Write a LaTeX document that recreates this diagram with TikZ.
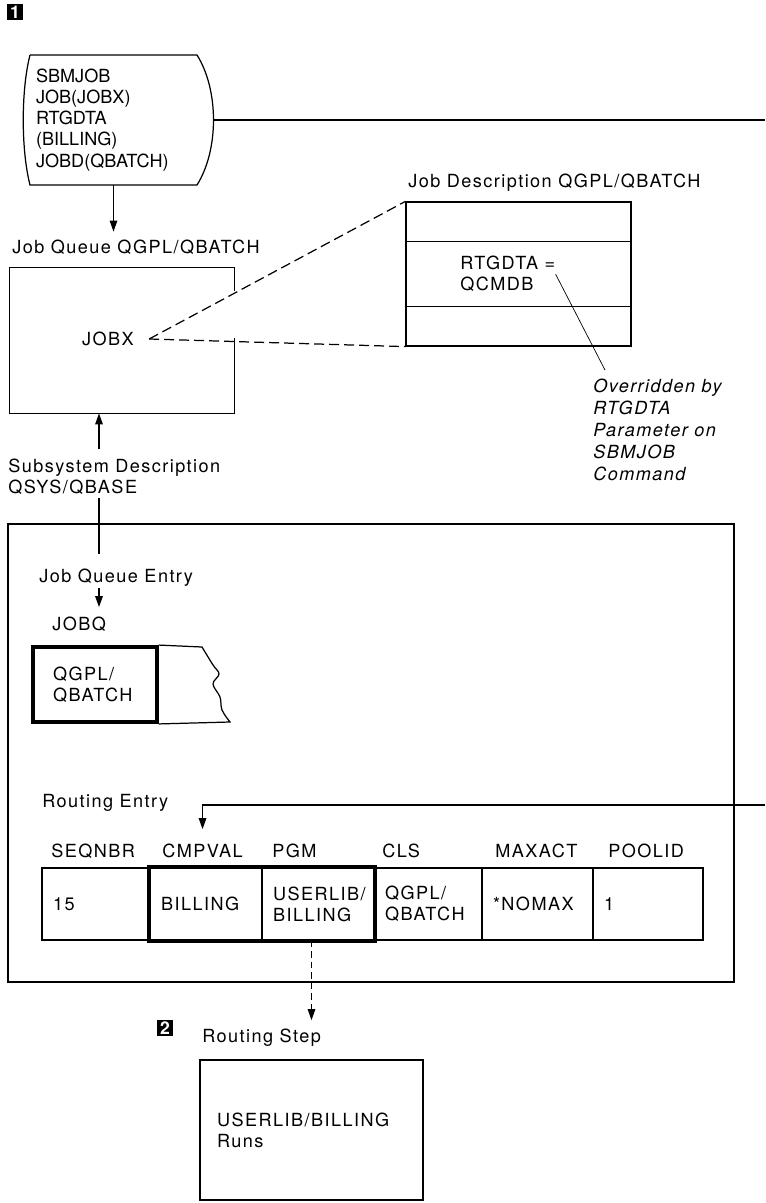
\documentclass[tikz,border=0pt]{standalone}
\usepackage{fontspec}
\setmainfont{TeX Gyre Heros}[LetterSpace=8]
\newfontfamily\tightfont{TeX Gyre Heros}
\usepackage{tikz}
\usetikzlibrary{arrows.meta, positioning, calc}
\tikzset{
  box/.style={rectangle, draw=black, line width=0.7pt, inner sep=0pt},
  heavy/.style={draw=black, line width=2.2pt},
  lbl/.style={inner sep=0pt, anchor=base west},
  mlbl/.style={inner sep=0pt, anchor=north west, align=left},
  badge/.style={rectangle, fill=black, text=white, minimum size=0.33cm,
                inner sep=0pt, font=\normalsize\tightfont\bfseries},
  arr/.style={-{Triangle[length=2.2mm, width=1.5mm]}, draw=black, line width=0.7pt},
  darr/.style={-{Triangle[length=2.2mm, width=1.5mm]}, draw=black, line width=0.7pt,
               dash pattern=on 1.3mm off 0.8mm},
  dline/.style={draw=black, line width=0.7pt, dash pattern=on 2mm off 1mm},
}
\begin{document}
\begin{tikzpicture}[x=0.02cm, y=-0.02cm,
  every node/.style={font=\fontsize{10.3}{12}\selectfont},
  cell/.style={box, minimum height=1.44cm, align=left},
  thin/.style={draw=black, line width=0.7pt},
]
  \useasboundingbox (0,0) rectangle (765,1203);

  % submit job command
  \node[badge] (b1) at (15,12) {1};
  \node[minimum width=3.34cm, minimum height=2.6cm, text width=3.1cm, align=left,
        inner sep=0pt, font=\tightfont\fontsize{10.3}{12}\selectfont] (sbm) at (113.5,120)
    {SBMJOB\\JOB(JOBX)\\RTGDTA\\(BILLING)\\JOBD(QBATCH)};
  \draw[thin] (30,55) -- (197,55) .. controls (219,90) and (219,150) .. (197,185)
    -- (30,185) .. controls (21,150) and (21,90) .. (30,55);
  \coordinate (sbmR) at (213.5,120);
  \coordinate (edgeA) at (765,120);
  \draw[thin] (sbmR) -- (edgeA);

  % job queue
  \node[lbl] (jqlbl) at (12,253) {Job Queue QGPL/QBATCH};
  \draw[arr, shorten >=0.15cm] (sbm.south) -- (sbm.south |- jqlbl.north);
  \node[minimum width=4.48cm, minimum height=2.9cm, inner sep=0pt] (jq) at (122,340.5) {};
  \draw[thin] ([yshift=-0.46cm]jq.north east) -- (jq.north east) -- (jq.north west)
    -- (jq.south west) -- (jq.south east) -- ([yshift=1.5cm]jq.south east);
  \node[inner xsep=0.3cm, inner ysep=0pt] (jobx) at (108,339) {JOBX};

  % job description
  \node[lbl] (jdlbl) at (408,187) {Job Description QGPL/QBATCH};
  \node[box, minimum width=4.5cm, minimum height=2.88cm] (jd) at (518.5,274) {};
  \draw[thin] ([yshift=-0.8cm]jd.north west) -- ([yshift=-0.8cm]jd.north east);
  \draw[thin] ([yshift=-2.1cm]jd.north west) -- ([yshift=-2.1cm]jd.north east);
  \node[mlbl] (rtg) at (460,256) {RTGDTA =\\QCMDB};
  \draw[dline] (jobx.east) -- (jd.north west);
  \draw[dline] (jobx.east) -- (jd.south west);
  \node[mlbl, font=\itshape\fontsize{10.3}{12.5}\selectfont] (note) at (593,379)
    {Overridden by\\RTGDTA\\Parameter on\\SBMJOB\\Command};
  \draw[line width=0.4pt] (rtg.east) -- ($(note.north west)+(12,-9)$);

  % subsystem description
  \coordinate (spine) at (99,0);
  \node[mlbl] (sslbl) at (8,459) {Subsystem Description\\QSYS/QBASE};
  \draw[arr, shorten <=0.2cm] (sslbl.north -| spine) -- (jq.south -| spine);
  \node[box, minimum width=14.52cm, minimum height=9.16cm] (subsys) at (371,753) {};
  \node[lbl] (jqe) at (39,582) {Job Queue Entry};
  \draw[thin, shorten <=0.06cm, shorten >=0.28cm] (sslbl.south -| spine) -- (jqe.north -| spine);
  \node[lbl] (jobq) at (52,630) {JOBQ};
  \draw[arr, shorten <=0.04cm, shorten >=0.18cm] (jqe.south -| spine) -- (jobq.north -| spine);
  \node[heavy, minimum width=2.48cm, minimum height=1.5cm, text width=1.68cm,
        align=left, inner sep=0pt] (jqbox) at (95,684.5) {QGPL/\\QBATCH};
  \draw[thin] (jqbox.north east) -- plot[smooth, tension=0.6] coordinates
    {(202,647) (213,665) (219,674) (213,684) (220,697) (222,710) (230,722)}
    -- (jqbox.south east);

  % routing entry
  \node[lbl] (relbl) at (42,807) {Routing Entry};
  \node[lbl] (hseq) at (51,857) {SEQNBR};
  \node[lbl] (hcmp) at (162,857) {CMPVAL};
  \node[lbl] (hpgm) at (272,857) {PGM};
  \node[lbl] (hcls) at (382,857) {CLS};
  \node[lbl] (hmax) at (495,857) {MAXACT};
  \node[lbl] (hpool) at (608,857) {POOLID};
  \coordinate (edgeB) at (765,805);
  \draw[arr, shorten >=0.28cm] (edgeB) -| (hcmp.north);

  \node[cell, minimum width=2.16cm, text width=1.72cm] (seq) at (96,904) {15};
  \node[cell, minimum width=2.24cm, text width=1.8cm] (cmp) at (206,904) {BILLING};
  \node[cell, minimum width=2.24cm, text width=1.8cm] (pgm) at (318,904) {USERLIB/\\BILLING};
  \node[cell, minimum width=2.16cm, text width=1.72cm] (cls) at (428,904) {QGPL/\\QBATCH};
  \node[cell, minimum width=2.22cm, text width=1.78cm] (maxact) at (537.5,904) {*NOMAX};
  \node[cell, minimum width=2.2cm, text width=1.76cm] (pool) at (648,904) {1};
  \draw[heavy] (cmp.north west) rectangle (pgm.south east);

  % routing step
  \node[badge] (b2) at (165,1028) {2};
  \node[lbl] (rslbl) at (202,1042) {Routing Step};
  \node[box, minimum width=4.46cm, minimum height=2.8cm, text width=3.78cm,
        align=left] (rs) at (311.5,1130) {USERLIB/BILLING\\Runs};
  \draw[darr, shorten >=0.16cm] (pgm.south -| rs.north) -- (rslbl.north -| rs.north);
\end{tikzpicture}
\end{document}
